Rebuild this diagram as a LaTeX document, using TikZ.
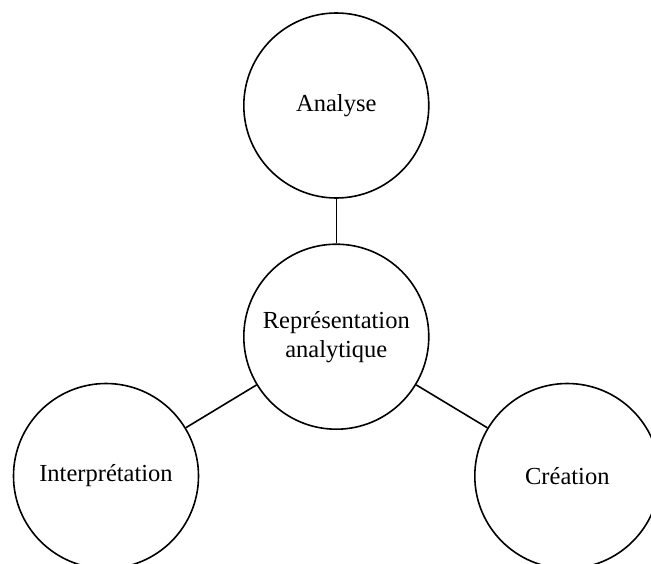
\documentclass[tikz,border=0pt]{standalone}
\usepackage{fontspec}
\setmainfont{Liberation Serif}
\begin{document}
\begin{tikzpicture}[x=1pt,y=-1pt,
  bubble/.style={circle,draw,line width=1.6pt,minimum size=185pt,inner sep=0pt,align=center,font=\fontsize{24.5}{29}\selectfont},
  link/.style={line width=1.6pt}]
\useasboundingbox (0,0) rectangle (651,563);
\clip (0,0) rectangle (651,563);
\node[bubble] (c) at (336.3,336.7) {Représentation\\analytique};
\node[bubble] (a) at (336.3,105.5) {Analyse};
\node[bubble] (i) at (106,476) {Interprétation};
\node[bubble] (r) at (567.3,476) {Création};
\draw[link] (a) -- (c);
\draw[link] (c) -- (i);
\draw[link] (c) -- (r);
\end{tikzpicture}
\end{document}
